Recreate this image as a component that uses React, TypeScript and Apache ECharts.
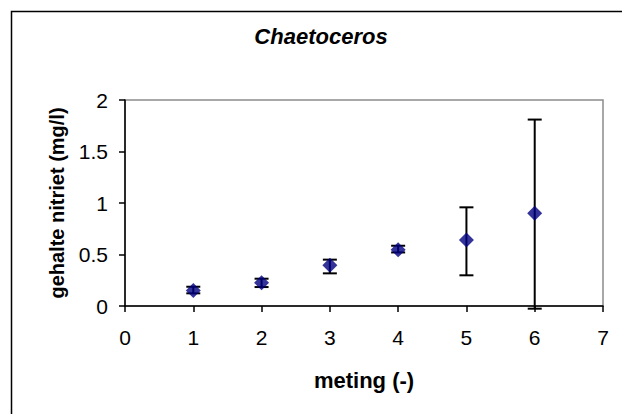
import React, { useEffect, useRef } from "react";
import * as echarts from "echarts";

const xValues = [1, 2, 3, 4, 5, 6];
const yValues = [0.15, 0.225, 0.395, 0.545, 0.64, 0.9];
const errLow = [0.123, 0.184, 0.317, 0.52, 0.298, -0.026];
const errHigh = [0.187, 0.265, 0.45, 0.585, 0.958, 1.81];
const titleText = "Chaetoceros";
const xName = "meting (-)";
const yName = "gehalte nitriet (mg/l)";

const FONT = "'Liberation Sans', Arial, sans-serif";

export default function App() {
  const ref = useRef<HTMLDivElement>(null);
  useEffect(() => {
    if (!ref.current) return;
    const chart = echarts.init(ref.current, null, { renderer: "svg" });
    const points = xValues.map((x, i) => [x, yValues[i]]);
    const errData = xValues.map((x, i) => [x, errLow[i], errHigh[i]]);
    chart.setOption({
      animation: false,
      backgroundColor: "#ffffff",
      textStyle: { fontFamily: FONT },
      graphic: [
        {
          type: "polyline",
          shape: { points: [[11.5, 600], [11.5, 11.5], [800, 11.5]] },
          style: { fill: "none", stroke: "#000000", lineWidth: 1.5 },
          silent: true,
          z: -10,
        },
        {
          type: "text",
          x: 321,
          y: 36,
          style: {
            text: titleText,
            font: `italic bold 22px ${FONT}`,
            fill: "#000000",
            textAlign: "center",
            textVerticalAlign: "middle",
          },
        },
      ],
      grid: {
        left: 125,
        right: 19,
        top: 100,
        bottom: 108,
        show: true,
        borderColor: "#8c8c8c",
        borderWidth: 1.5,
        backgroundColor: "#ffffff",
      },
      xAxis: {
        type: "value",
        min: 0,
        max: 7,
        interval: 1,
        name: xName,
        nameLocation: "middle",
        nameGap: 63,
        nameTextStyle: { fontSize: 22, fontWeight: "bold", color: "#000", fontFamily: FONT },
        axisLine: { show: true, onZero: false, lineStyle: { color: "#000", width: 1.5 } },
        axisTick: { show: true, inside: false, length: 6, lineStyle: { color: "#000", width: 1.5 } },
        axisLabel: { fontSize: 21, color: "#000", margin: 21, fontFamily: FONT },
        splitLine: { show: false },
      },
      yAxis: {
        type: "value",
        min: 0,
        max: 2,
        interval: 0.5,
        name: yName,
        nameLocation: "middle",
        nameGap: 58,
        nameRotate: 90,
        nameTextStyle: { fontSize: 20, fontWeight: "bold", color: "#000", fontFamily: FONT },
        axisLine: { show: true, onZero: false, lineStyle: { color: "#000", width: 1.5 } },
        axisTick: { show: true, inside: false, length: 6, lineStyle: { color: "#000", width: 1.5 } },
        axisLabel: { fontSize: 21, color: "#000", margin: 17, fontFamily: FONT },
        splitLine: { show: false },
      },
      series: [
        {
          type: "custom",
          name: "error",
          clip: false,
          z: 3,
          data: errData,
          renderItem: (params: any, api: any) => {
            const x = api.value(0);
            const lo = api.coord([x, api.value(1)]);
            const hi = api.coord([x, api.value(2)]);
            const hw = 7;
            const style = { stroke: "#000000", lineWidth: 2 };
            return {
              type: "group",
              children: [
                { type: "line", shape: { x1: hi[0], y1: hi[1], x2: lo[0], y2: lo[1] }, style },
                { type: "line", shape: { x1: hi[0] - hw, y1: hi[1], x2: hi[0] + hw, y2: hi[1] }, style },
                { type: "line", shape: { x1: lo[0] - hw, y1: lo[1], x2: lo[0] + hw, y2: lo[1] }, style },
              ],
            };
          },
        },
        {
          type: "scatter",
          name: "meting",
          data: points,
          symbol: "diamond",
          symbolSize: [15, 15],
          z: 5,
          itemStyle: { color: "#000080" },
        },
      ],
    });
    return () => chart.dispose();
  }, []);
  return (
    <div
      ref={ref}
      style={{ position: "absolute", left: 0, top: 0, width: 622, height: 414 }}
    />
  );
}
